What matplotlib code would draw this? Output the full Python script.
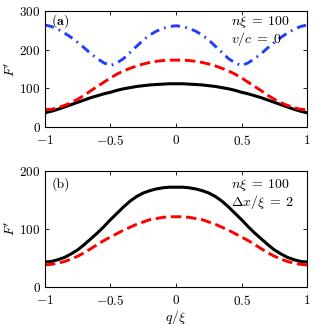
import numpy as np
import matplotlib
matplotlib.use("Agg")
import matplotlib.pyplot as plt

plt.rcParams["font.family"] = "cmr10"
plt.rcParams["mathtext.fontset"] = "cm"
plt.rcParams["axes.formatter.use_mathtext"] = True
plt.rcParams["font.size"] = 9.5

# q/xi sample points
q = [-1.0, -0.95, -0.9, -0.85, -0.8, -0.75, -0.7, -0.65, -0.6, -0.55, -0.5,
     -0.45, -0.4, -0.35, -0.3, -0.25, -0.2, -0.15, -0.1, -0.05, 0.0,
     0.05, 0.1, 0.15, 0.2, 0.25, 0.3, 0.35, 0.4, 0.45, 0.5,
     0.55, 0.6, 0.65, 0.7, 0.75, 0.8, 0.85, 0.9, 0.95, 1.0]

# panel (a)
a_black = [37, 41, 46, 52, 58, 64, 70, 76, 81, 86, 90,
           95, 99, 102, 105, 107, 109, 110, 111, 112, 112,
           112, 111, 110, 109, 107, 105, 102, 99, 95, 90,
           86, 81, 76, 70, 64, 58, 52, 46, 41, 37]
a_red = [45, 46, 50, 56, 63, 72, 82, 94, 105, 116, 127,
         137, 145, 152, 158, 163, 167, 170, 172, 173, 173,
         173, 172, 170, 167, 163, 158, 152, 145, 137, 127,
         116, 105, 94, 82, 72, 63, 56, 50, 46, 45]
a_blue = [264, 260, 253, 243, 232, 219, 205, 190, 177, 166, 159,
          166, 177, 193, 209, 225, 238, 248, 255, 260, 262,
          260, 255, 248, 238, 225, 209, 193, 177, 166, 159,
          166, 177, 190, 205, 219, 232, 243, 253, 260, 264]

# panel (b)
b_black = [43, 44, 47, 51, 57, 64, 73, 83, 93, 104, 116,
           127, 138, 148, 156, 162, 166, 169, 171, 172, 172,
           172, 171, 169, 166, 162, 156, 148, 138, 127, 116,
           104, 93, 83, 73, 64, 57, 51, 47, 44, 43]
b_red = [38, 39, 41, 44, 48, 53, 59, 66, 73, 80, 86,
         92, 98, 103, 108, 112, 116, 118, 120, 121, 121,
         121, 120, 118, 116, 112, 108, 103, 98, 92, 86,
         80, 73, 66, 59, 53, 48, 44, 41, 39, 38]

fig = plt.figure(figsize=(3.16, 3.25), dpi=100)
ax1 = fig.add_axes([0.142, 0.609, 0.830, 0.357])
ax2 = fig.add_axes([0.142, 0.117, 0.830, 0.357])

red_dash = (0, (3.6, 1.6))
blue_dd = (0, (3.2, 1.8, 0.6, 1.8))

ax1.plot(q, a_black, color="black", lw=2.2)
ax1.plot(q, a_red, color="red", lw=2.1, linestyle=red_dash)
ax1.plot(q, a_blue, color="#1f3fff", lw=2.1, linestyle=blue_dd)
ax1.set_ylim(0, 300)
ax1.set_yticks([0, 100, 200, 300])
ax1.text(0.025, 0.99, r"($\mathbf{a}$)", transform=ax1.transAxes, va="top", ha="left", fontsize=10)
ax1.text(0.71, 0.975, r"$n\xi\;=\;100$", transform=ax1.transAxes, va="top", ha="left", fontsize=10)
ax1.text(0.71, 0.84, r"$v/c\;=\;0$", transform=ax1.transAxes, va="top", ha="left", fontsize=10)

ax2.plot(q, b_black, color="black", lw=2.2)
ax2.plot(q, b_red, color="red", lw=2.1, linestyle=red_dash)
ax2.set_ylim(0, 200)
ax2.set_yticks([0, 100, 200])
ax2.text(0.025, 0.95, "(b)", transform=ax2.transAxes, va="top", ha="left", fontsize=10)
ax2.text(0.71, 0.95, r"$n\xi\;=\;100$", transform=ax2.transAxes, va="top", ha="left", fontsize=10)
ax2.text(0.71, 0.81, r"$\Delta x/\xi\;=\;2$", transform=ax2.transAxes, va="top", ha="left", fontsize=10)
ax2.set_xlabel(r"$q/\xi$", fontsize=10, labelpad=0)

for ax in (ax1, ax2):
    ax.set_xlim(-1, 1)
    ax.set_xticks([-1, -0.5, 0, 0.5, 1])
    ax.set_xticklabels(["$-1$", "$-0.5$", "$0$", "$0.5$", "$1$"])
    ax.tick_params(direction="in", top=True, right=True, length=3, width=0.6, labelsize=9.5)
    ax.tick_params(axis="x", pad=5)
    ax.tick_params(axis="y", pad=3)
    ax.set_ylabel(r"$F'$", fontsize=10, labelpad=1)
    for s in ax.spines.values():
        s.set_linewidth(0.8)

fig.savefig("out.png", dpi=100)
